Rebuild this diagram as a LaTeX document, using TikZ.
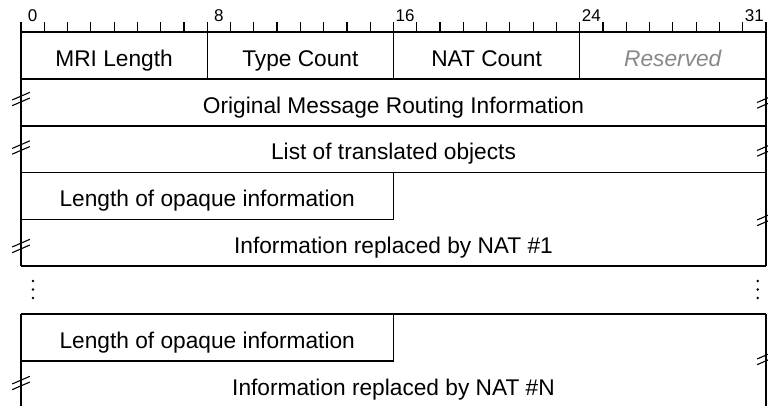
\documentclass[tikz,border=0pt]{standalone}
\usepackage{fontspec}
\setmainfont{Liberation Sans}
\definecolor{resgray}{RGB}{136,136,136}
\begin{document}
\begin{tikzpicture}[x=1pt,y=-1pt,
  frame/.style={line width=1.2pt, black},
  lbl/.style={font=\fontsize{22.7}{26}\selectfont, anchor=base, inner sep=0pt},
  bitnum/.style={font=\fontsize{17}{19}\selectfont, anchor=base, inner sep=0pt},
  brk/.style={line width=1.1pt},
  vdot/.style={circle, fill=black, inner sep=0pt, minimum size=2.7pt},
  brkmark/.pic={\draw[brk] (-8.8,0.95) -- ++(17.6,-7.6) (-8.8,6.65) -- ++(17.6,-7.6);}]
\useasboundingbox (0,0) rectangle (768,405);
\clip (0,0) rectangle (768,405);
\def\bw{23.28}
% ruler
\draw[frame] (21,32) -- (765.96,32);
\foreach \i in {1,...,31} { \draw[frame] ({21+\i*\bw},22) -- ({21+\i*\bw},32); }
\foreach \i/\n in {0/b0,8/b8,16/b16,24/b24,31/b31}
  \node[bitnum] (\n) at ({21+\i*\bw+\bw/2},21.5) {\i};
% outer borders, upper block
\draw[frame] (21,22) -- (21,266);
\draw[frame] (765.96,22) -- (765.96,266);
\foreach \i in {8,16,24} { \draw[frame] ({21+\i*\bw},22) -- ({21+\i*\bw},79); }
\draw[frame] (21,79) -- (765.96,79);
\draw[frame] (21,126) -- (765.96,126);
\draw[frame] (21,172.5) -- (765.96,172.5);
\draw[frame] (393.48,172.5) -- (393.48,219.5) -- (21,219.5);
\draw[frame] (21,266) -- (765.96,266);
% lower block
\draw[frame] (21,314) -- (765.96,314);
\draw[frame] (21,314) -- (21,410);
\draw[frame] (765.96,314) -- (765.96,410);
\draw[frame] (393.48,314) -- (393.48,361) -- (21,361);
% texts
\node[lbl] (mri) at (114.1,66) {MRI Length};
\node[lbl] (type) at (300.4,66) {Type Count};
\node[lbl] (nat) at (486.6,66) {NAT Count};
\node[lbl, text=resgray, font=\fontsize{22.7}{26}\selectfont\itshape] (res) at (672.8,66) {Reserved};
\node[lbl] (omri) at (393.5,113) {Original Message Routing Information};
\node[lbl] (list) at (393.5,159.8) {List of translated objects};
\node[lbl] (len1) at (207.24,206.5) {Length of opaque information};
\node[lbl] (info1) at (393.5,253) {Information replaced by NAT \#1};
\node[lbl] (len2) at (207.24,348) {Length of opaque information};
\node[lbl] (infoN) at (393.5,395) {Information replaced by NAT \#N};
% break marks
\pic at (21,99) {brkmark};
\pic at (765.96,101.5) {brkmark};
\pic at (21,147.5) {brkmark};
\pic at (765.96,149.5) {brkmark};
\pic at (21,246) {brkmark};
\pic at (765.96,219) {brkmark};
\pic at (21,383) {brkmark};
\pic at (765.96,358) {brkmark};
% vertical dots
\foreach \y/\k in {281/1,289.5/2,298/3} {
  \node[vdot] (dl\k) at (33,\y) {};
  \node[vdot] (dr\k) at (757.7,\y) {};
}
\end{tikzpicture}
\end{document}
